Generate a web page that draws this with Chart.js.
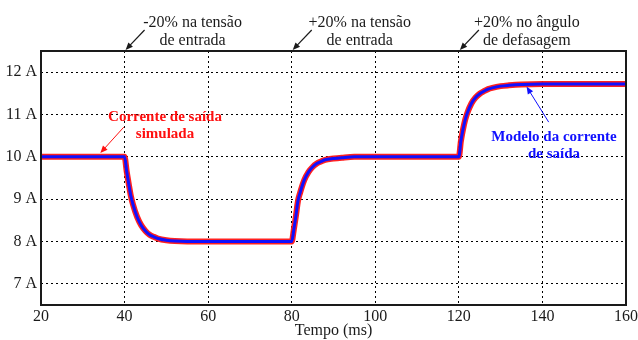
<!DOCTYPE html>
<html>
<head>
<meta charset="utf-8">
<script src="https://cdn.jsdelivr.net/npm/chart.js@4/dist/chart.umd.min.js"></script>
<style>
  html, body { margin: 0; padding: 0; background: #fff; }
  #wrap { width: 638px; height: 340px; }
</style>
</head>
<body>
<div id="wrap"><canvas id="c" width="638" height="340"></canvas></div>
<script>
// ---- data ----
const timeMs = [20, 30, 40, 40.5, 41, 41.5, 42, 43, 44, 45, 46, 47, 48, 50, 52, 55, 60, 70,
  80, 80.5, 81, 81.5, 82, 83, 84, 85, 86, 87, 88, 90, 92, 95, 100, 110,
  120, 120.5, 121, 121.5, 122, 123, 124, 125, 126, 127, 128, 130, 132, 135, 140, 150, 160];
const simulatedCurrent = [10, 10, 10, 9.66, 9.36, 9.08, 8.88, 8.58, 8.38, 8.25, 8.16, 8.11, 8.07, 8.03, 8.01, 8.0, 8.0, 8.0,
  8.0, 8.28, 8.6, 8.96, 9.15, 9.45, 9.64, 9.76, 9.84, 9.89, 9.93, 9.96, 9.98, 10.0, 10.0, 10.0,
  10.0, 10.38, 10.65, 10.87, 11.03, 11.26, 11.4, 11.49, 11.55, 11.6, 11.63, 11.67, 11.69, 11.71, 11.72, 11.72, 11.72];
const modelCurrent = [10, 10, 10, 9.66, 9.36, 9.08, 8.88, 8.58, 8.38, 8.25, 8.16, 8.11, 8.07, 8.03, 8.01, 8.0, 8.0, 8.0,
  8.0, 8.28, 8.6, 8.96, 9.15, 9.45, 9.64, 9.76, 9.84, 9.89, 9.93, 9.96, 9.98, 10.0, 10.0, 10.0,
  10.0, 10.38, 10.65, 10.87, 11.03, 11.26, 11.4, 11.49, 11.55, 11.6, 11.63, 11.67, 11.69, 11.71, 11.72, 11.72, 11.72];
const xTicks = [20, 40, 60, 80, 100, 120, 140, 160];
const yTicks = [7, 8, 9, 10, 11, 12];
const eventTimes = [40, 80, 120];
const eventLabels = [
  ["-20% na tensão", "de entrada"],
  ["+20% na tensão", "de entrada"],
  ["+20% no ângulo", "de defasagem"]
];
const simLabel = ["Corrente de saída", "simulada"];
const modelLabel = ["Modelo da corrente", "de saída"];
const xTitle = "Tempo (ms)";

const SERIF = '"Liberation Serif", "Times New Roman", serif';

function arrow(ctx, x0, y0, x1, y1, color, lw, head) {
  ctx.save();
  ctx.strokeStyle = color; ctx.fillStyle = color; ctx.lineWidth = lw;
  const a = Math.atan2(y1 - y0, x1 - x0);
  ctx.beginPath(); ctx.moveTo(x0, y0);
  ctx.lineTo(x1 - Math.cos(a) * head * 0.7, y1 - Math.sin(a) * head * 0.7); ctx.stroke();
  ctx.beginPath();
  ctx.moveTo(x1, y1);
  ctx.lineTo(x1 - head * Math.cos(a - 0.4), y1 - head * Math.sin(a - 0.4));
  ctx.lineTo(x1 - head * Math.cos(a + 0.4), y1 - head * Math.sin(a + 0.4));
  ctx.closePath(); ctx.fill();
  ctx.restore();
}

const decor = {
  id: 'decor',
  afterDraw(chart) {
    const ctx = chart.ctx, a = chart.chartArea;
    const xs = chart.scales.x, ys = chart.scales.y;
    // frame
    ctx.save();
    ctx.strokeStyle = '#1a1a1a'; ctx.lineWidth = 2;
    ctx.strokeRect(a.left, a.top, a.right - a.left, a.bottom - a.top);
    ctx.restore();
    // event annotations
    ctx.save();
    ctx.font = '16px ' + SERIF; ctx.fillStyle = '#1a1a1a';
    ctx.textAlign = 'center'; ctx.textBaseline = 'alphabetic';
    eventTimes.forEach((t, i) => {
      const px = xs.getPixelForValue(t);
      ctx.fillText(eventLabels[i][0], px + 68, 27);
      ctx.fillText(eventLabels[i][1], px + 68, 45);
      arrow(ctx, px + 20, a.top - 21, px + 1, a.top - 1, '#1a1a1a', 1.2, 8);
    });
    ctx.restore();
    // simulated label
    ctx.save();
    ctx.font = 'bold 15px ' + SERIF; ctx.textAlign = 'center';
    ctx.fillStyle = '#ff1010';
    const sx = xs.getPixelForValue(20) + 124, sy = ys.getPixelForValue(10);
    ctx.fillText(simLabel[0], sx, sy - 36);
    ctx.fillText(simLabel[1], sx, sy - 19);
    arrow(ctx, xs.getPixelForValue(39.8), ys.getPixelForValue(10.7), xs.getPixelForValue(34.2), ys.getPixelForValue(10.09), '#ff1010', 1, 8);
    // model label
    ctx.fillStyle = '#1010ff';
    const mx = xs.getPixelForValue(160) - 72, my = ys.getPixelForValue(10);
    ctx.fillText(modelLabel[0], mx, my - 16);
    ctx.fillText(modelLabel[1], mx, my + 1);
    arrow(ctx, xs.getPixelForValue(141.5), ys.getPixelForValue(10.82), xs.getPixelForValue(136.2), ys.getPixelForValue(11.66), '#1010ff', 1, 8);
    ctx.restore();
  }
};

const toPts = (arr) => timeMs.map((t, i) => ({ x: t, y: arr[i] }));

new Chart(document.getElementById('c'), {
  type: 'line',
  data: {
    datasets: [
      { label: 'Corrente de saída simulada', data: toPts(simulatedCurrent), borderColor: 'rgba(255,20,20,0.95)', borderWidth: 6, pointRadius: 0, cubicInterpolationMode: 'monotone', order: 2 },
      { label: 'Modelo da corrente de saída', data: toPts(modelCurrent), borderColor: '#1010ff', borderWidth: 3, pointRadius: 0, cubicInterpolationMode: 'monotone', order: 1 }
    ]
  },
  options: {
    responsive: false,
    animation: false,
    devicePixelRatio: 1,
    layout: { padding: { top: 51, right: 12, left: 0, bottom: 0 } },
    plugins: { legend: { display: false }, tooltip: { enabled: false } },
    scales: {
      x: {
        type: 'linear', min: 20, max: 160,
        afterBuildTicks: (s) => { s.ticks = xTicks.map(v => ({ value: v })); },
        afterFit: (s) => { s.height = 35; s.paddingLeft = 0; s.paddingRight = 0; },
        ticks: { font: { family: SERIF, size: 16 }, color: '#1a1a1a', padding: 2, maxRotation: 0, autoSkip: false },
        grid: { color: '#000', lineWidth: 1, drawTicks: false },
        border: { display: false, dash: [2, 3] },
        title: { display: true, text: xTitle, font: { family: SERIF, size: 16 }, color: '#1a1a1a', padding: { top: 0, bottom: 0 } }
      },
      y: {
        type: 'linear', min: 6.5, max: 12.5,
        afterBuildTicks: (s) => { s.ticks = yTicks.map(v => ({ value: v })); },
        afterFit: (s) => { s.width = 41; s.paddingTop = 0; s.paddingBottom = 0; },
        ticks: { font: { family: SERIF, size: 16 }, color: '#1a1a1a', padding: 4, callback: (v) => v + ' A' },
        grid: { color: '#000', lineWidth: 1, drawTicks: false },
        border: { display: false, dash: [2, 3] }
      }
    }
  },
  plugins: [decor]
});
</script>
</body>
</html>
